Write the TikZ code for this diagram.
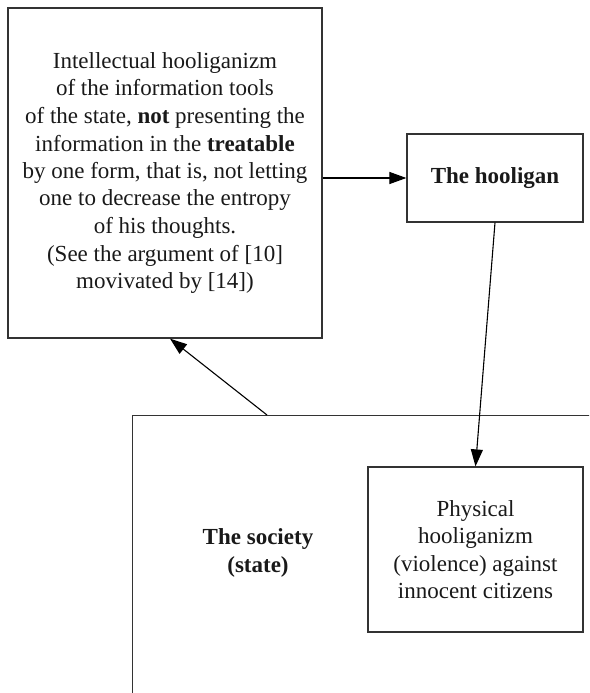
\documentclass[tikz,border=0pt]{standalone}
\usepackage{fontspec}
\setmainfont{Liberation Serif}
\usetikzlibrary{positioning, arrows.meta}

\begin{document}
\begin{tikzpicture}[x=1pt, y=-1pt,
        box/.style={rectangle, draw=black!80, line width=1.2pt, inner sep=0pt, align=center, text=black!90, font=\fontsize{23}{27.5}\selectfont},
        link/.style={draw=black, line width=1.1pt, -{Triangle[length=17pt, width=12pt]}}]
            \useasboundingbox (0,0) rectangle (589,693);
            \clip (0,0) rectangle (589,693);
            \node[box, minimum width=314pt, minimum height=330pt] (intel) at (165,173) {Intellectual hooliganizm\\ of the information tools\\ of the state, \textbf{not} presenting the\\ information in the \textbf{treatable}\\ by one form, that is, not letting\\ one to decrease the entropy\\ of his thoughts.\\ (See the argument of [10]\\ movivated by [14])};
            \node[box, minimum width=176pt, minimum height=88pt] (hooligan) at (495,178) {\textbf{The hooligan}};
            \node[box, minimum width=500pt, minimum height=320pt, anchor=north west] (society) at (132,415) {};
            \node[box, draw=none] (societytext) at (258,553) {\textbf{The society}\\ \textbf{(state)}};
            \node[box, minimum width=215pt, minimum height=165pt] (physical) at (475.5,549.5) {Physical\\ hooliganizm\\ (violence) against\\ innocent citizens};
            \coordinate (soctop) at (267,415);
        
            \draw[link] (intel.east |- hooligan.west) -- (hooligan.west);
            \draw[link] (hooligan.south) -- (physical.north);
            \draw[link] (soctop) -- ([xshift=5pt]intel.south);
        \end{tikzpicture}
\end{document}
